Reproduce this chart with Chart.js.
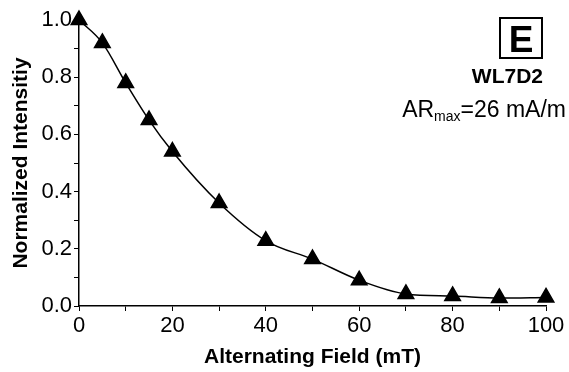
<!DOCTYPE html>
<html lang="en">
<head>
  <meta charset="UTF-8">
  <title>Normalized Intensity vs Alternating Field</title>
  <style>
    body { margin: 0; background: #fff; }
    .grafica { width: 569px; height: 372px; }
  </style>
</head>
<body>
  <div class="grafica">
    <canvas id="myChart" width="569" height="372"></canvas>
  </div>

  <script src="https://cdn.jsdelivr.net/npm/chart.js"></script>
  <script>
    // datos
    const fields = [0, 5, 10, 15, 20, 30, 40, 50, 60, 70, 80, 90, 100]
    const intensities = [1.0, 0.92, 0.78, 0.65, 0.54, 0.36, 0.228, 0.164, 0.09, 0.042, 0.035, 0.028, 0.03]
    const xTickLabels = ['0', '20', '40', '60', '80', '100']
    const yTickLabels = ['0.0', '0.2', '0.4', '0.6', '0.8', '1.0']

    const points = fields.map((x, i) => ({ x, y: intensities[i] }))
    const family = 'Liberation Sans, Arial, sans-serif'
    const tickFont = { family, size: 22 }
    const titleFont = { family, size: 21, weight: 'bold' }

    // texto del recuadro "E" y la muestra
    const annotations = {
      id: 'annotations',
      afterDraw (chart) {
        const ctx = chart.ctx
        ctx.save()
        ctx.strokeStyle = '#000'
        ctx.lineWidth = 2
        ctx.strokeRect(500, 18, 42, 40)
        ctx.fillStyle = '#000'
        ctx.textAlign = 'center'
        ctx.textBaseline = 'alphabetic'
        ctx.font = 'bold 37px ' + family
        ctx.fillText('E', 521, 52)
        ctx.font = 'bold 21px ' + family
        ctx.textAlign = 'right'
        ctx.fillText('WL7D2', 543, 83)
        // AR con subindice max
        const big = '23px ' + family
        const small = '14px ' + family
        const tail = '=26 mA/m'
        ctx.font = big
        const wTail = ctx.measureText(tail).width
        const wAR = ctx.measureText('AR').width
        ctx.font = small
        const wSub = ctx.measureText('max').width
        const xStart = 566 - wTail - wSub - wAR
        ctx.textAlign = 'left'
        ctx.font = big
        ctx.fillText('AR', xStart, 117)
        ctx.font = small
        ctx.fillText('max', xStart + wAR, 121)
        ctx.font = big
        ctx.fillText(tail, xStart + wAR + wSub, 117)
        ctx.restore()
      }
    }

    const config = {
      type: 'scatter',
      data: {
        datasets: [
          {
            label: 'WL7D2',
            data: points,
            showLine: true,
            borderColor: '#000',
            backgroundColor: '#000',
            borderWidth: 1.5,
            pointStyle: 'triangle',
            pointRadius: 9,
            pointHoverRadius: 9,
            cubicInterpolationMode: 'monotone',
            clip: false
          }
        ]
      },
      plugins: [annotations],
      options: {
        responsive: false,
        animation: false,
        layout: { padding: { left: 0, right: 23, top: 20, bottom: 0 } },
        plugins: { legend: { display: false }, tooltip: { enabled: false } },
        scales: {
          x: {
            type: 'linear',
            min: 0,
            max: 100,
            afterFit: (scale) => { scale.height = 66 },
            border: { color: '#000', width: 1.5 },
            grid: { drawOnChartArea: false, tickLength: 5, tickColor: '#000' },
            ticks: {
              stepSize: 10,
              color: '#000',
              font: tickFont,
              padding: 2,
              maxRotation: 0,
              autoSkip: false,
              callback: (v) => xTickLabels.includes(String(v)) ? String(v) : ''
            },
            title: { display: true, text: 'Alternating Field (mT)', color: '#000', font: titleFont, padding: { top: 0, bottom: 2 } }
          },
          y: {
            min: 0,
            max: 1,
            afterFit: (scale) => { scale.width = 79 },
            border: { color: '#000', width: 1.5 },
            grid: { drawOnChartArea: false, tickLength: 5, tickColor: '#000' },
            ticks: {
              stepSize: 0.1,
              color: '#000',
              font: tickFont,
              padding: 2,
              autoSkip: false,
              callback: (v) => {
                const s = (Math.round(v * 10) / 10).toFixed(1)
                return yTickLabels.includes(s) ? s : ''
              }
            },
            title: { display: true, text: 'Normalized Intensitiy', color: '#000', font: titleFont, padding: { top: 9, bottom: 0 } }
          }
        }
      }
    }

    new Chart(document.getElementById('myChart'), config)
  </script>
</body>
</html>
